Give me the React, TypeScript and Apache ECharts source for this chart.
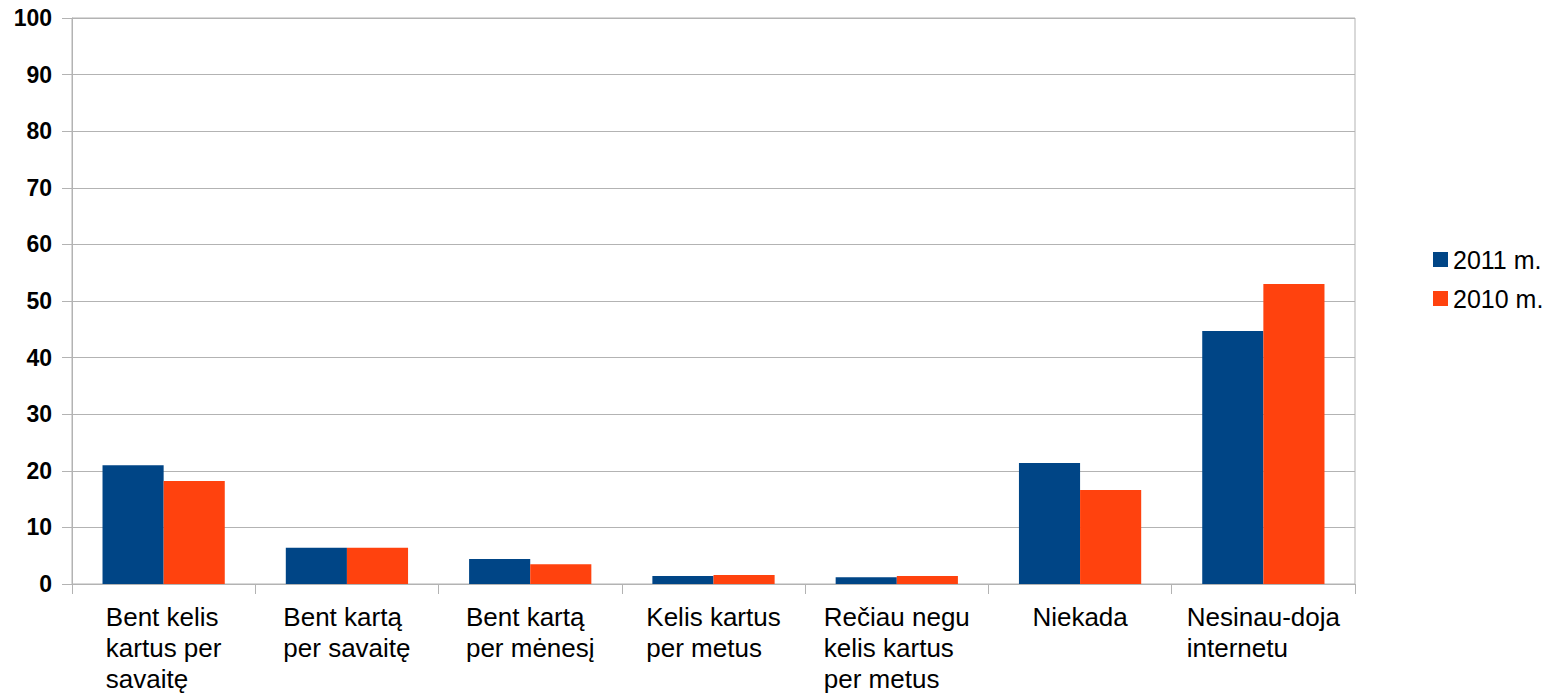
import React, { useEffect, useRef } from "react";
import * as echarts from "echarts";

const categories = [
  "Bent kelis\nkartus per\nsavaitę",
  "Bent kartą\nper savaitę",
  "Bent kartą\nper mėnesį",
  "Kelis kartus\nper metus",
  "Rečiau negu\nkelis kartus\nper metus",
  "Niekada",
  "Nesinau-doja\ninternetu",
];
const series2011 = [21.0, 6.4, 4.4, 1.4, 1.2, 21.4, 44.7];
const series2010 = [18.2, 6.4, 3.5, 1.6, 1.4, 16.6, 53.0];
const seriesNames = ["2011 m.", "2010 m."];

export default function App() {
  const ref = useRef<HTMLDivElement>(null);
  useEffect(() => {
    document.body.style.margin = "0";
    const chart = echarts.init(ref.current!, null, { renderer: "svg" });
    const font = "'Liberation Sans', Arial, sans-serif";
    chart.setOption({
      animation: false,
      backgroundColor: "#ffffff",
      textStyle: { fontFamily: font },
      grid: {
        left: 72,
        top: 18,
        right: 199,
        bottom: 112,
        show: true,
        borderColor: "#b3b3b3",
        borderWidth: 1,
        backgroundColor: "transparent",
      },
      legend: {
        orient: "vertical",
        left: 1428,
        top: 242,
        itemWidth: 15,
        itemHeight: 15,
        itemGap: 14,
        icon: "rect",
        textStyle: { fontSize: 25, color: "#000", fontFamily: font },
        data: seriesNames,
      },
      xAxis: {
        type: "category",
        data: categories,
        axisLine: { show: true, lineStyle: { color: "#b3b3b3" } },
        axisTick: { show: true, length: 10, alignWithLabel: false, lineStyle: { color: "#b3b3b3" } },
        axisLabel: {
          interval: 0,
          margin: 17,
          formatter: (v: string) => `{a|${v}}`,
          rich: {
            a: {
              align: "left",
              fontSize: 26,
              lineHeight: 31,
              color: "#000",
              fontFamily: font,
            },
          },
        },
      },
      yAxis: {
        type: "value",
        min: 0,
        max: 100,
        interval: 10,
        axisLine: { show: true, lineStyle: { color: "#b3b3b3" } },
        axisTick: { show: true, length: 10, lineStyle: { color: "#b3b3b3" } },
        splitLine: { show: true, lineStyle: { color: "#b3b3b3" } },
        axisLabel: {
          margin: 20,
          fontSize: 23,
          fontWeight: "bold",
          color: "#000",
          fontFamily: font,
        },
      },
      series: [
        {
          name: seriesNames[0],
          type: "bar",
          data: series2011,
          itemStyle: { color: "#004586" },
          barGap: "0%",
          barCategoryGap: "33.3%",
        },
        {
          name: seriesNames[1],
          type: "bar",
          data: series2010,
          itemStyle: { color: "#ff420e" },
          barGap: "0%",
          barCategoryGap: "33.3%",
        },
      ],
    });
    return () => chart.dispose();
  }, []);
  return <div ref={ref} style={{ width: 1554, height: 696 }} />;
}
